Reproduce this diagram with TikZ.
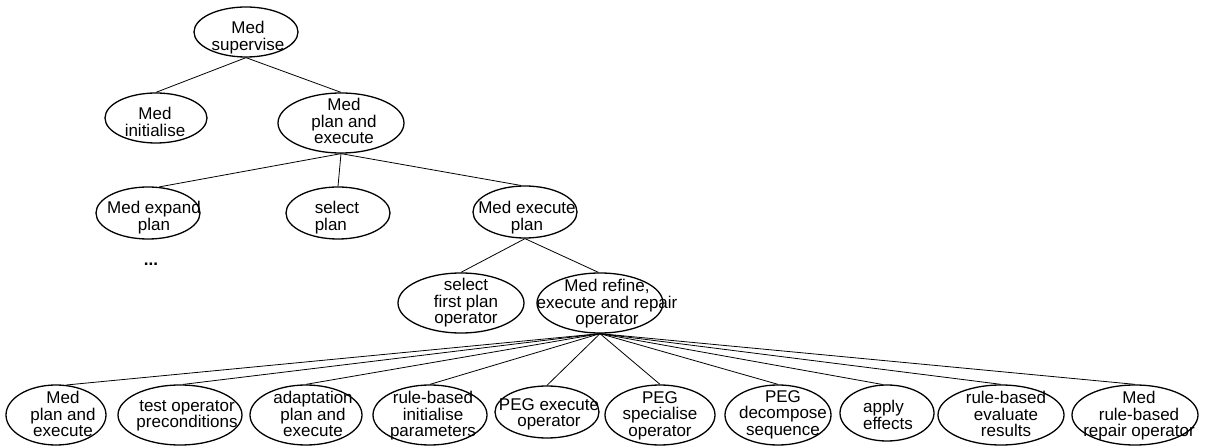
\documentclass[tikz,border=0pt]{standalone}
\usepackage{fontspec}
\setmainfont{Liberation Sans}
\usetikzlibrary{shapes.geometric}
\begin{document}
\begin{tikzpicture}[x=1pt,y=-1pt,
  oval/.style={ellipse,draw,line width=1.3pt,inner sep=0pt},
  lbl/.style={align=center,inner sep=0pt,anchor=north,
    font=\fontsize{17}{16.5}\selectfont},
  link/.style={line width=0.8pt}]
\useasboundingbox (0,0) rectangle (1211,446);

% ---- ovals (centre, width, height)
\node[oval,minimum width=104pt,minimum height=50pt] (sup) at (246,32) {};
\node[oval,minimum width=102pt,minimum height=50pt] (ini) at (156,118) {};
\node[oval,minimum width=126pt,minimum height=60pt] (pe)  at (341,123) {};
\node[oval,minimum width=104pt,minimum height=52pt] (exp) at (148,213) {};
\node[oval,minimum width=104pt,minimum height=52pt] (sel) at (338,213) {};
\node[oval,minimum width=104pt,minimum height=52pt] (exe) at (525,212) {};
\node[oval,minimum width=126pt,minimum height=60pt] (sfp) at (461,303) {};
\node[oval,minimum width=126pt,minimum height=60pt] (ref) at (600,303) {};

\node[oval,minimum width=100pt,minimum height=60pt] (m1)  at (56,415) {};
\node[oval,minimum width=124pt,minimum height=60pt] (m2)  at (180,415) {};
\node[oval,minimum width=112pt,minimum height=60pt] (m3)  at (306,415) {};
\node[oval,minimum width=114pt,minimum height=60pt] (m4)  at (430,415) {};
\node[oval,minimum width=104pt,minimum height=52pt] (m5)  at (547,412) {};
\node[oval,minimum width=110pt,minimum height=60pt] (m6)  at (660,415) {};
\node[oval,minimum width=106pt,minimum height=60pt] (m7)  at (778,415) {};
\node[oval,minimum width=94pt,minimum height=56pt]  (m8)  at (887,413) {};
\node[oval,minimum width=126pt,minimum height=60pt] (m9)  at (1001,415) {};
\node[oval,minimum width=126pt,minimum height=60pt] (m10) at (1135,415) {};

% ---- texts
\node[lbl] (sup-t) at (248,21)  {Med\\supervise};
\node[lbl] (ini-t) at (155,107) {Med\\initialise};
\node[lbl] (pe-t)  at (344,98)  {Med\\plan and\\execute};
\node[lbl] (exp-t) at (154,201) {Med expand\\plan};
\node[lbl,align=left] (sel-t) at (337,201) {select\\plan};
\node[lbl] (exe-t) at (527,201) {Med execute\\plan};
\node[lbl] (sfp-t) at (466,278) {select\\first plan\\operator};
\node[lbl] (ref-t) at (607,279) {Med refine,\\execute and repair\\operator};
\node[lbl,font=\bfseries\fontsize{17}{16.5}\selectfont] (dots) at (151,263) {...};

\node[lbl] (m1-t)  at (63,391)   {Med\\plan and\\execute};
\node[lbl] (m2-t)  at (187,400)  {test operator\\preconditions};
\node[lbl] (m3-t)  at (313,391)  {adaptation\\plan and\\execute};
\node[lbl] (m4-t)  at (433,391)  {rule-based\\initialise\\parameters};
\node[lbl] (m5-t)  at (549,398)  {PEG execute\\operator};
\node[lbl] (m6-t)  at (660,391)  {PEG\\specialise\\operator};
\node[lbl] (m7-t)  at (783,390)  {PEG\\decompose\\sequence};
\node[lbl,align=left] (m8-t) at (888,400) {apply\\effects};
\node[lbl] (m9-t)  at (1006,391) {rule-based\\evaluate\\results};
\node[lbl] (m10-t) at (1139,391) {Med\\rule-based\\repair operator};

% ---- tree links
\draw[link] (sup.south) -- (ini.north);
\draw[link] (sup.south) -- (pe.north);
\draw[link] (pe.south) -- (exp.67);
\draw[link] (pe.south) -- (sel.north);
\draw[link] (pe.south) -- (exe.99);
\draw[link] (exe.south) -- (sfp.north);
\draw[link] (exe.south) -- (ref.93);
\draw[link] (ref.south) -- (m1.71);
\draw[link] (ref.south) -- (m2.84);
\foreach \n in {m3,m4,m5,m6,m7,m9,m10}
  \draw[link] (ref.south) -- (\n.north);
\draw[link] (ref.south) -- (m8.99);
\end{tikzpicture}
\end{document}
